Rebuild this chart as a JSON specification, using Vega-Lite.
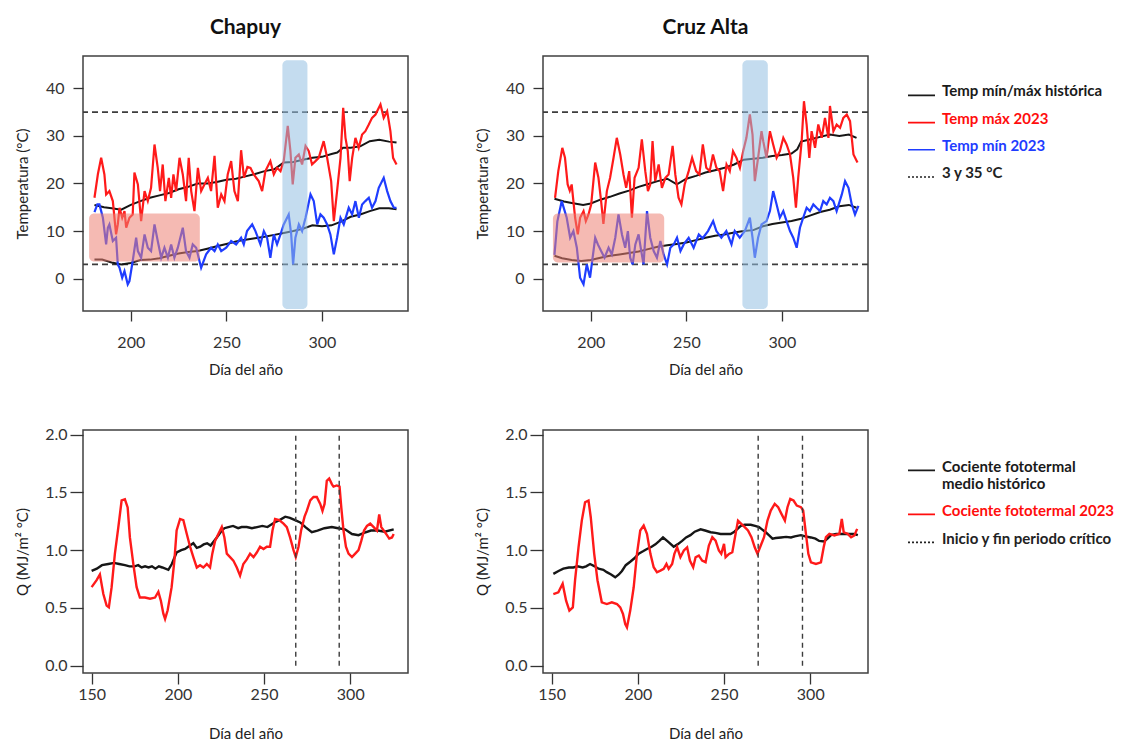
{
"$schema":"https://vega.github.io/schema/vega-lite/v6.json",
"padding":{"left":14,"top":16,"right":0,"bottom":0},
"background":"white",
"config":{
 "font":"Lato",
 "view":{"stroke":"#404040","strokeWidth":1.5},
 "axis":{"domain":false,"grid":false,"tickColor":"#333333","tickWidth":1.3,"labelFontSize":16,"labelColor":"#333333","titleFontSize":15,"titleFontWeight":"normal","titleColor":"#222222"},
 "title":{"fontSize":21,"fontWeight":"bold","color":"#111111"}
},
"resolve":{"scale":{"color":"independent","strokeDash":"independent"}},
"datasets":{
 "umbral":[{"v":3},{"v":35}],
 "franjas":[{"est":"CH","tipo":"periodo","ini":279.3,"fin":292.4,"lo":-6.4,"hi":45.9},{"est":"CH","tipo":"frio","ini":178.2,"fin":236.1,"lo":3.6,"hi":13.7},{"est":"CA","tipo":"periodo","ini":279.3,"fin":292.6,"lo":-6.4,"hi":45.9},{"est":"CA","tipo":"frio","ini":180.2,"fin":238.4,"lo":3.4,"hi":13.7}],
 "criticos":[{"est":"CH","dia":268.4},{"est":"CH","dia":293.6},{"est":"CA","dia":269.8},{"est":"CA","dia":295.5}],
 "ch_hmax":[{"dia":181,"v":15.5},{"dia":186,"v":15},{"dia":190,"v":14.8},{"dia":195,"v":14.5},{"dia":200,"v":15.5},{"dia":205,"v":16.3},{"dia":210,"v":17},{"dia":215,"v":17.5},{"dia":220,"v":18},{"dia":225,"v":18.8},{"dia":230,"v":19.3},{"dia":235,"v":20},{"dia":240,"v":20},{"dia":245,"v":20.3},{"dia":250,"v":20.8},{"dia":255,"v":21},{"dia":260,"v":21.5},{"dia":265,"v":22},{"dia":270,"v":22.6},{"dia":275,"v":23},{"dia":280,"v":24.4},{"dia":285,"v":24.5},{"dia":290,"v":25},{"dia":295,"v":25.4},{"dia":300,"v":25.6},{"dia":305,"v":26.2},{"dia":308,"v":26.5},{"dia":311,"v":27.5},{"dia":315,"v":27.5},{"dia":320,"v":27.8},{"dia":325,"v":28.9},{"dia":330,"v":29.2},{"dia":335,"v":28.8},{"dia":339,"v":28.6}],
 "ch_hmin":[{"dia":181,"v":4},{"dia":185,"v":4},{"dia":190,"v":3.4},{"dia":195,"v":3},{"dia":200,"v":3.3},{"dia":205,"v":3.9},{"dia":210,"v":4},{"dia":215,"v":4.3},{"dia":220,"v":4.8},{"dia":225,"v":5.3},{"dia":230,"v":5.6},{"dia":235,"v":5.8},{"dia":240,"v":6.3},{"dia":245,"v":6.8},{"dia":250,"v":7.3},{"dia":255,"v":7.8},{"dia":260,"v":8.2},{"dia":265,"v":8.5},{"dia":270,"v":8.8},{"dia":275,"v":9.2},{"dia":280,"v":9.6},{"dia":285,"v":10},{"dia":290,"v":10.5},{"dia":295,"v":11.2},{"dia":300,"v":11},{"dia":305,"v":11.2},{"dia":310,"v":12},{"dia":315,"v":13},{"dia":320,"v":13.5},{"dia":325,"v":14.2},{"dia":330,"v":14.8},{"dia":335,"v":14.8},{"dia":339,"v":14.6}],
 "ch_max":[{"dia":181,"v":17},{"dia":182.8,"v":22},{"dia":184.5,"v":25.4},{"dia":186.2,"v":21.9},{"dia":187.1,"v":17.7},{"dia":188.8,"v":18.4},{"dia":190.6,"v":16.3},{"dia":192.3,"v":9.3},{"dia":193.2,"v":11.4},{"dia":194.1,"v":14.9},{"dia":195.5,"v":12.8},{"dia":196.7,"v":14.2},{"dia":197.6,"v":10.7},{"dia":199.3,"v":12.8},{"dia":201,"v":13.5},{"dia":201.9,"v":22.3},{"dia":203.7,"v":19.8},{"dia":205.4,"v":12.1},{"dia":207.2,"v":18.4},{"dia":208.9,"v":16.3},{"dia":210.6,"v":19.1},{"dia":212.4,"v":28.2},{"dia":214.1,"v":23.3},{"dia":215.3,"v":18.4},{"dia":216.7,"v":24},{"dia":218.1,"v":16.3},{"dia":219.9,"v":21.2},{"dia":221.1,"v":17},{"dia":222.3,"v":21.9},{"dia":223.7,"v":18.4},{"dia":225.5,"v":25.4},{"dia":227.2,"v":21.9},{"dia":228.9,"v":16.3},{"dia":230.3,"v":25.4},{"dia":231.6,"v":18.4},{"dia":233.3,"v":14.2},{"dia":235.1,"v":23.3},{"dia":236.8,"v":18.4},{"dia":238.5,"v":19.8},{"dia":240.3,"v":21.2},{"dia":242,"v":18.4},{"dia":243.8,"v":25.8},{"dia":245.5,"v":14.9},{"dia":247.3,"v":17.7},{"dia":249,"v":16.3},{"dia":250.7,"v":21.9},{"dia":252.5,"v":24.7},{"dia":254.2,"v":18.4},{"dia":256,"v":16.3},{"dia":257.7,"v":27},{"dia":259.2,"v":21.2},{"dia":261,"v":23.5},{"dia":262.6,"v":23.3},{"dia":264.3,"v":21.9},{"dia":266.9,"v":20.5},{"dia":268.7,"v":18.4},{"dia":270.4,"v":22.6},{"dia":273,"v":24.7},{"dia":274.8,"v":21.9},{"dia":276.5,"v":23.3},{"dia":278.3,"v":22.6},{"dia":280,"v":24.7},{"dia":282.1,"v":32.1},{"dia":283.5,"v":26.8},{"dia":284.7,"v":19.8},{"dia":286.1,"v":25.4},{"dia":287.9,"v":26.1},{"dia":289.6,"v":24},{"dia":291.4,"v":27.9},{"dia":293.1,"v":26.8},{"dia":294.8,"v":24},{"dia":296.6,"v":24.7},{"dia":298.3,"v":25.4},{"dia":300.9,"v":28.9},{"dia":302.7,"v":25.4},{"dia":304.8,"v":20.5},{"dia":306.2,"v":12.1},{"dia":307.9,"v":18.4},{"dia":309.7,"v":25.4},{"dia":311.1,"v":35.9},{"dia":312.3,"v":29.6},{"dia":313.5,"v":26.8},{"dia":314.5,"v":20.5},{"dia":315.8,"v":25.4},{"dia":317.5,"v":29.6},{"dia":319.2,"v":27.5},{"dia":321,"v":30.3},{"dia":322.7,"v":31},{"dia":324.5,"v":32.4},{"dia":326.2,"v":33.8},{"dia":328,"v":34.5},{"dia":330.6,"v":36.6},{"dia":332.3,"v":33.8},{"dia":334.1,"v":35.2},{"dia":335.8,"v":31},{"dia":337.2,"v":25.4},{"dia":339,"v":24}],
 "ch_min":[{"dia":181,"v":14},{"dia":182.5,"v":15.6},{"dia":183.6,"v":15.6},{"dia":185.4,"v":12.8},{"dia":187.1,"v":7.2},{"dia":188,"v":10.7},{"dia":188.8,"v":11.4},{"dia":190.6,"v":7.9},{"dia":192.3,"v":8.6},{"dia":193.2,"v":3},{"dia":194.1,"v":2.3},{"dia":195.5,"v":0.2},{"dia":196.7,"v":1.6},{"dia":198.4,"v":-1.2},{"dia":199.3,"v":-0.5},{"dia":201,"v":3.7},{"dia":202.8,"v":8.6},{"dia":203.7,"v":5.8},{"dia":205.4,"v":4.4},{"dia":207.2,"v":9.3},{"dia":208.9,"v":6.5},{"dia":210.6,"v":5.8},{"dia":212.4,"v":11.4},{"dia":214.1,"v":7.9},{"dia":215.9,"v":4.4},{"dia":217.6,"v":6.5},{"dia":219.4,"v":4.4},{"dia":221.1,"v":7.2},{"dia":222.8,"v":4.4},{"dia":224.6,"v":6.5},{"dia":227.2,"v":10.7},{"dia":228.9,"v":5.8},{"dia":230.7,"v":4.4},{"dia":232.4,"v":7.2},{"dia":234.2,"v":6.5},{"dia":236.8,"v":2.3},{"dia":239.4,"v":5.1},{"dia":242,"v":6.5},{"dia":243.8,"v":5.8},{"dia":245.5,"v":7.2},{"dia":247.3,"v":5.8},{"dia":249.9,"v":6.5},{"dia":252.5,"v":7.9},{"dia":255.1,"v":7.2},{"dia":257.7,"v":8.6},{"dia":259.1,"v":7.2},{"dia":260.8,"v":10},{"dia":263.5,"v":11.4},{"dia":265.2,"v":10},{"dia":267.8,"v":7.2},{"dia":269.6,"v":10},{"dia":271.3,"v":8.6},{"dia":273,"v":4.4},{"dia":274.8,"v":9.3},{"dia":276.5,"v":7.2},{"dia":278.3,"v":9.3},{"dia":280,"v":11.4},{"dia":282.6,"v":13.5},{"dia":283.9,"v":9.3},{"dia":284.9,"v":3},{"dia":286.1,"v":8.6},{"dia":287.9,"v":11.4},{"dia":289.6,"v":10},{"dia":291.4,"v":12.8},{"dia":294,"v":17.7},{"dia":295.7,"v":16.3},{"dia":297.5,"v":11.4},{"dia":299.2,"v":13.5},{"dia":300.9,"v":12.8},{"dia":302.7,"v":11.4},{"dia":304.4,"v":9.3},{"dia":306.2,"v":5.1},{"dia":307.9,"v":8.6},{"dia":309.7,"v":12.8},{"dia":311.4,"v":11.4},{"dia":314,"v":14.9},{"dia":315.8,"v":13.5},{"dia":317.5,"v":16.3},{"dia":319.3,"v":12.8},{"dia":321,"v":15.6},{"dia":322.7,"v":16.3},{"dia":324.5,"v":17},{"dia":326.2,"v":14.9},{"dia":328,"v":16.3},{"dia":329.7,"v":19.1},{"dia":332.3,"v":21.2},{"dia":334.1,"v":18.4},{"dia":335.8,"v":16.3},{"dia":337.6,"v":14.9},{"dia":339,"v":14.9}],
 "ca_hmax":[{"dia":181,"v":16.8},{"dia":186,"v":16.2},{"dia":190,"v":15.9},{"dia":196,"v":15.5},{"dia":200,"v":15.8},{"dia":205,"v":16.6},{"dia":210,"v":17.2},{"dia":215,"v":17.9},{"dia":220,"v":18.5},{"dia":225,"v":19.3},{"dia":230,"v":19.9},{"dia":235,"v":20.5},{"dia":240,"v":21},{"dia":245,"v":19.8},{"dia":250,"v":21},{"dia":255,"v":21.6},{"dia":260,"v":22.3},{"dia":265,"v":22.8},{"dia":270,"v":23.3},{"dia":275,"v":24},{"dia":280,"v":25},{"dia":285,"v":25.2},{"dia":290,"v":25.4},{"dia":295,"v":25.8},{"dia":300,"v":26},{"dia":305,"v":26.3},{"dia":308,"v":27.2},{"dia":310,"v":28.8},{"dia":315,"v":29.3},{"dia":320,"v":29.8},{"dia":325,"v":30.3},{"dia":330,"v":30},{"dia":335,"v":30.3},{"dia":339,"v":29.6}],
 "ca_hmin":[{"dia":181,"v":4.8},{"dia":185,"v":4.3},{"dia":190,"v":3.9},{"dia":195,"v":3.7},{"dia":200,"v":3.9},{"dia":205,"v":4.4},{"dia":210,"v":4.8},{"dia":215,"v":5.1},{"dia":220,"v":5.4},{"dia":225,"v":5.7},{"dia":230,"v":6.2},{"dia":235,"v":6.7},{"dia":240,"v":7},{"dia":245,"v":7.3},{"dia":250,"v":7.6},{"dia":255,"v":8.1},{"dia":260,"v":8.6},{"dia":265,"v":9},{"dia":270,"v":9.3},{"dia":275,"v":9.7},{"dia":280,"v":10},{"dia":285,"v":10.2},{"dia":290,"v":11},{"dia":295,"v":11.5},{"dia":300,"v":11.8},{"dia":305,"v":12.1},{"dia":310,"v":12.6},{"dia":315,"v":13.3},{"dia":320,"v":14},{"dia":325,"v":14.5},{"dia":330,"v":15.2},{"dia":335,"v":15.5},{"dia":339,"v":14.9}],
 "ca_max":[{"dia":181.3,"v":17},{"dia":183,"v":22.6},{"dia":185.1,"v":27.5},{"dia":186.5,"v":25.4},{"dia":187.9,"v":19.8},{"dia":189,"v":18.5},{"dia":190,"v":19.8},{"dia":191.8,"v":12.8},{"dia":193.2,"v":9.3},{"dia":194.4,"v":12.8},{"dia":196.2,"v":14.2},{"dia":197.4,"v":12.1},{"dia":198.8,"v":13.5},{"dia":200.2,"v":15.6},{"dia":202.3,"v":24.4},{"dia":204,"v":21.2},{"dia":205.4,"v":16.3},{"dia":206.6,"v":11.5},{"dia":208.4,"v":18.4},{"dia":210.1,"v":21.2},{"dia":211.9,"v":25.4},{"dia":213.6,"v":29.6},{"dia":215.4,"v":26.1},{"dia":217.1,"v":21.9},{"dia":218.5,"v":19.1},{"dia":220.1,"v":22.6},{"dia":221.5,"v":12.8},{"dia":222.9,"v":21.2},{"dia":225,"v":23.3},{"dia":226.7,"v":29.3},{"dia":228.5,"v":22.6},{"dia":229.9,"v":18.4},{"dia":231.1,"v":19.8},{"dia":232.3,"v":28.9},{"dia":233.7,"v":20.5},{"dia":235.5,"v":24},{"dia":237.2,"v":19.1},{"dia":239,"v":21.2},{"dia":240.7,"v":21.9},{"dia":242.8,"v":27.9},{"dia":244.2,"v":21.9},{"dia":245.9,"v":17},{"dia":247.4,"v":15.6},{"dia":249.1,"v":19.8},{"dia":251.2,"v":22.6},{"dia":253,"v":25.4},{"dia":255.1,"v":22.6},{"dia":256.8,"v":21.9},{"dia":258.6,"v":28.2},{"dia":260.4,"v":23.3},{"dia":262.2,"v":22.6},{"dia":263.9,"v":26.1},{"dia":265.7,"v":23.3},{"dia":267.4,"v":22.6},{"dia":269.2,"v":18.4},{"dia":271,"v":24},{"dia":272.7,"v":22.6},{"dia":274.4,"v":26.8},{"dia":276.2,"v":25.4},{"dia":278,"v":23.3},{"dia":279.7,"v":26.8},{"dia":281.4,"v":29.6},{"dia":283.2,"v":34.5},{"dia":284.6,"v":30.3},{"dia":285.8,"v":20.5},{"dia":287.5,"v":25.4},{"dia":289.3,"v":31},{"dia":290.2,"v":28.9},{"dia":291.9,"v":25.4},{"dia":293.7,"v":31},{"dia":295.4,"v":28.2},{"dia":297.2,"v":25.4},{"dia":298.9,"v":26.8},{"dia":300.7,"v":29.6},{"dia":302.4,"v":28.2},{"dia":304.2,"v":26.1},{"dia":305.9,"v":21.2},{"dia":307.3,"v":14.9},{"dia":308.5,"v":21.2},{"dia":310.3,"v":28.9},{"dia":311.5,"v":37.3},{"dia":312.9,"v":32.4},{"dia":314.3,"v":25.4},{"dia":315.5,"v":31},{"dia":317.3,"v":27.5},{"dia":319,"v":32.4},{"dia":320.8,"v":29.6},{"dia":322.5,"v":33.8},{"dia":324.3,"v":29.6},{"dia":325.1,"v":36.3},{"dia":326.9,"v":31},{"dia":328.6,"v":32.4},{"dia":330.4,"v":31.7},{"dia":332.1,"v":33.8},{"dia":333.9,"v":34.5},{"dia":335.6,"v":33.1},{"dia":337.4,"v":26.1},{"dia":339.5,"v":24.4}],
 "ca_min":[{"dia":181,"v":5},{"dia":182.5,"v":12},{"dia":184.8,"v":16.3},{"dia":187.4,"v":12.8},{"dia":189.2,"v":8.6},{"dia":190.9,"v":10},{"dia":192.7,"v":6.5},{"dia":194.4,"v":0.2},{"dia":196.2,"v":-1.2},{"dia":197.9,"v":3},{"dia":199.6,"v":0.2},{"dia":202.3,"v":8.6},{"dia":203.7,"v":7.2},{"dia":205.4,"v":5.8},{"dia":207.2,"v":4.4},{"dia":209.3,"v":6.5},{"dia":211,"v":5.1},{"dia":212.8,"v":8.6},{"dia":214.5,"v":13.5},{"dia":216.3,"v":9.3},{"dia":218,"v":6.5},{"dia":219.4,"v":10},{"dia":220.6,"v":4.4},{"dia":221.9,"v":3},{"dia":223.3,"v":7.2},{"dia":225,"v":9.3},{"dia":226.4,"v":5.8},{"dia":227.6,"v":3},{"dia":229.4,"v":14.2},{"dia":231.1,"v":8.6},{"dia":232.9,"v":5.8},{"dia":234.6,"v":4.4},{"dia":236.4,"v":7.9},{"dia":238.1,"v":5.1},{"dia":239.9,"v":3},{"dia":241.6,"v":6.5},{"dia":243.4,"v":7.2},{"dia":245.1,"v":8.6},{"dia":246.9,"v":5.8},{"dia":248.6,"v":7.2},{"dia":251.2,"v":8.6},{"dia":253.8,"v":6.5},{"dia":256.5,"v":9.3},{"dia":258.5,"v":8.5},{"dia":261.3,"v":10},{"dia":264,"v":12.1},{"dia":265.7,"v":10},{"dia":268.3,"v":8.6},{"dia":270.9,"v":10},{"dia":273.6,"v":7.2},{"dia":275.3,"v":10},{"dia":277.9,"v":8.6},{"dia":280.6,"v":10},{"dia":283.2,"v":12.8},{"dia":284.6,"v":8.6},{"dia":285.8,"v":4.4},{"dia":287.5,"v":8.6},{"dia":289.3,"v":11.4},{"dia":291.9,"v":12.1},{"dia":293.7,"v":14.2},{"dia":295.4,"v":18.4},{"dia":297.2,"v":15.6},{"dia":298.9,"v":12.8},{"dia":300.7,"v":14.2},{"dia":302.4,"v":12.1},{"dia":304.2,"v":10},{"dia":305.9,"v":8.6},{"dia":307.7,"v":6.5},{"dia":309.4,"v":10.7},{"dia":311.1,"v":12.8},{"dia":312.9,"v":14.9},{"dia":314.6,"v":14.2},{"dia":316.4,"v":15.6},{"dia":318.1,"v":14.9},{"dia":319.9,"v":14.2},{"dia":321.6,"v":16.3},{"dia":323.4,"v":15.6},{"dia":325.1,"v":17},{"dia":326.9,"v":16.3},{"dia":328.6,"v":14.2},{"dia":331.3,"v":17.7},{"dia":333,"v":20.5},{"dia":334.8,"v":19.1},{"dia":336.5,"v":15.6},{"dia":338.2,"v":13.5},{"dia":340,"v":15.3}],
 "ch_qh":[{"dia":150,"v":0.82},{"dia":153,"v":0.84},{"dia":156,"v":0.87},{"dia":159.7,"v":0.88},{"dia":163,"v":0.89},{"dia":166,"v":0.88},{"dia":169.3,"v":0.87},{"dia":172,"v":0.86},{"dia":175,"v":0.86},{"dia":177,"v":0.87},{"dia":179,"v":0.85},{"dia":181,"v":0.86},{"dia":183,"v":0.85},{"dia":185,"v":0.86},{"dia":187,"v":0.84},{"dia":189,"v":0.86},{"dia":191,"v":0.85},{"dia":194.5,"v":0.83},{"dia":196.5,"v":0.88},{"dia":199.3,"v":0.98},{"dia":202,"v":1.0},{"dia":204.2,"v":1.01},{"dia":207,"v":1.04},{"dia":209,"v":1.06},{"dia":211,"v":1.02},{"dia":213,"v":1.03},{"dia":215,"v":1.05},{"dia":217,"v":1.06},{"dia":219,"v":1.04},{"dia":222.6,"v":1.11},{"dia":225,"v":1.16},{"dia":227,"v":1.19},{"dia":229.3,"v":1.2},{"dia":232,"v":1.21},{"dia":235,"v":1.19},{"dia":237,"v":1.2},{"dia":240,"v":1.2},{"dia":243,"v":1.19},{"dia":246,"v":1.2},{"dia":249,"v":1.21},{"dia":252,"v":1.2},{"dia":256,"v":1.24},{"dia":259,"v":1.26},{"dia":262.3,"v":1.29},{"dia":265,"v":1.28},{"dia":268,"v":1.26},{"dia":271,"v":1.24},{"dia":274,"v":1.2},{"dia":277.7,"v":1.155},{"dia":281,"v":1.17},{"dia":285,"v":1.19},{"dia":289.3,"v":1.2},{"dia":293,"v":1.19},{"dia":297,"v":1.18},{"dia":301,"v":1.14},{"dia":304.8,"v":1.13},{"dia":308,"v":1.15},{"dia":312,"v":1.17},{"dia":316,"v":1.17},{"dia":320,"v":1.16},{"dia":325.2,"v":1.18}],
 "ch_q":[{"dia":150,"v":0.68},{"dia":152.9,"v":0.74},{"dia":154.8,"v":0.79},{"dia":156.8,"v":0.62},{"dia":158.7,"v":0.52},{"dia":160,"v":0.505},{"dia":161.6,"v":0.68},{"dia":163.5,"v":0.97},{"dia":165.5,"v":1.2},{"dia":167.4,"v":1.43},{"dia":169.3,"v":1.44},{"dia":170.9,"v":1.37},{"dia":172.2,"v":1.11},{"dia":174.2,"v":0.88},{"dia":176.1,"v":0.68},{"dia":178,"v":0.59},{"dia":180.9,"v":0.59},{"dia":183.9,"v":0.58},{"dia":186.8,"v":0.59},{"dia":188.7,"v":0.64},{"dia":190.2,"v":0.56},{"dia":191.6,"v":0.45},{"dia":192.6,"v":0.405},{"dia":194.1,"v":0.48},{"dia":196.4,"v":0.68},{"dia":198,"v":0.91},{"dia":199.3,"v":1.17},{"dia":201.3,"v":1.27},{"dia":203.2,"v":1.26},{"dia":205.2,"v":1.14},{"dia":207.1,"v":1.03},{"dia":209,"v":0.94},{"dia":211,"v":0.85},{"dia":212.9,"v":0.87},{"dia":214.8,"v":0.85},{"dia":216.8,"v":0.88},{"dia":218.7,"v":0.85},{"dia":220,"v":0.97},{"dia":221.6,"v":1.08},{"dia":223.5,"v":1.14},{"dia":225.5,"v":1.2},{"dia":227,"v":1.11},{"dia":228.4,"v":0.97},{"dia":230.3,"v":0.94},{"dia":232.2,"v":0.91},{"dia":234.2,"v":0.85},{"dia":236.1,"v":0.78},{"dia":238,"v":0.88},{"dia":240,"v":0.92},{"dia":241.9,"v":0.97},{"dia":243.9,"v":0.94},{"dia":245.8,"v":0.98},{"dia":247.7,"v":1.03},{"dia":249.7,"v":1.01},{"dia":251.6,"v":1.03},{"dia":253.5,"v":1.03},{"dia":254.9,"v":1.17},{"dia":256.4,"v":1.27},{"dia":258.8,"v":1.26},{"dia":261.3,"v":1.23},{"dia":263.2,"v":1.2},{"dia":265.1,"v":1.11},{"dia":267.1,"v":1.0},{"dia":268.4,"v":0.94},{"dia":270,"v":1.03},{"dia":271.5,"v":1.17},{"dia":273.5,"v":1.29},{"dia":274.8,"v":1.34},{"dia":276.8,"v":1.43},{"dia":278.7,"v":1.46},{"dia":280.6,"v":1.46},{"dia":282.6,"v":1.4},{"dia":283.9,"v":1.34},{"dia":285.1,"v":1.4},{"dia":286.4,"v":1.6},{"dia":287.8,"v":1.62},{"dia":289.4,"v":1.57},{"dia":290.3,"v":1.55},{"dia":292.2,"v":1.56},{"dia":293.8,"v":1.55},{"dia":294.8,"v":1.37},{"dia":296.1,"v":1.17},{"dia":297.5,"v":1.03},{"dia":299,"v":0.97},{"dia":301,"v":0.94},{"dia":302.9,"v":0.97},{"dia":304.8,"v":1.0},{"dia":306.4,"v":1.08},{"dia":308,"v":1.17},{"dia":309.7,"v":1.21},{"dia":311.6,"v":1.23},{"dia":313.6,"v":1.2},{"dia":315.5,"v":1.17},{"dia":316.8,"v":1.31},{"dia":318,"v":1.2},{"dia":319.4,"v":1.17},{"dia":321.3,"v":1.13},{"dia":322.6,"v":1.1},{"dia":324.2,"v":1.11},{"dia":325.2,"v":1.14}],
 "ca_qh":[{"dia":151,"v":0.795},{"dia":154,"v":0.82},{"dia":156.8,"v":0.84},{"dia":160,"v":0.85},{"dia":162.6,"v":0.85},{"dia":165,"v":0.86},{"dia":168,"v":0.85},{"dia":170,"v":0.86},{"dia":172.3,"v":0.88},{"dia":175,"v":0.86},{"dia":177.2,"v":0.84},{"dia":180,"v":0.83},{"dia":182,"v":0.81},{"dia":184.5,"v":0.79},{"dia":186.9,"v":0.765},{"dia":189,"v":0.79},{"dia":190.8,"v":0.82},{"dia":193,"v":0.87},{"dia":195.6,"v":0.9},{"dia":198,"v":0.93},{"dia":200.5,"v":0.97},{"dia":203,"v":0.99},{"dia":205.3,"v":1.01},{"dia":208,"v":1.03},{"dia":210.2,"v":1.05},{"dia":212.5,"v":1.08},{"dia":214.6,"v":1.11},{"dia":217,"v":1.08},{"dia":220.8,"v":1.03},{"dia":223,"v":1.05},{"dia":225.7,"v":1.08},{"dia":228,"v":1.11},{"dia":230.5,"v":1.13},{"dia":233,"v":1.16},{"dia":236.4,"v":1.18},{"dia":239,"v":1.17},{"dia":242.2,"v":1.155},{"dia":245,"v":1.15},{"dia":248,"v":1.14},{"dia":251,"v":1.14},{"dia":253.8,"v":1.14},{"dia":256,"v":1.16},{"dia":259.7,"v":1.21},{"dia":262,"v":1.22},{"dia":265.5,"v":1.22},{"dia":268,"v":1.21},{"dia":270.3,"v":1.2},{"dia":272,"v":1.18},{"dia":274.2,"v":1.155},{"dia":276,"v":1.13},{"dia":278.1,"v":1.1},{"dia":280,"v":1.105},{"dia":283,"v":1.11},{"dia":286,"v":1.115},{"dia":288.8,"v":1.11},{"dia":291,"v":1.12},{"dia":294.6,"v":1.13},{"dia":297,"v":1.12},{"dia":300.4,"v":1.11},{"dia":303,"v":1.1},{"dia":305.2,"v":1.08},{"dia":308,"v":1.075},{"dia":310,"v":1.1},{"dia":312,"v":1.13},{"dia":315,"v":1.14},{"dia":318,"v":1.14},{"dia":321,"v":1.14},{"dia":323.7,"v":1.14},{"dia":325.5,"v":1.14},{"dia":327.6,"v":1.13}],
 "ca_q":[{"dia":151,"v":0.62},{"dia":153.9,"v":0.635},{"dia":156.4,"v":0.71},{"dia":158.4,"v":0.563},{"dia":160.3,"v":0.477},{"dia":162.3,"v":0.505},{"dia":163.6,"v":0.74},{"dia":165.6,"v":1.025},{"dia":167.5,"v":1.256},{"dia":169.4,"v":1.415},{"dia":171.4,"v":1.43},{"dia":172.7,"v":1.285},{"dia":174.7,"v":0.968},{"dia":176.6,"v":0.74},{"dia":179.1,"v":0.549},{"dia":182,"v":0.534},{"dia":184.9,"v":0.549},{"dia":187.9,"v":0.534},{"dia":189.8,"v":0.505},{"dia":191.4,"v":0.448},{"dia":192.7,"v":0.361},{"dia":193.7,"v":0.332},{"dia":195.6,"v":0.477},{"dia":197.6,"v":0.679},{"dia":199.5,"v":0.968},{"dia":201.4,"v":1.17},{"dia":203.4,"v":1.213},{"dia":205.3,"v":1.141},{"dia":207.3,"v":0.968},{"dia":209.2,"v":0.852},{"dia":211.1,"v":0.809},{"dia":213.1,"v":0.823},{"dia":215,"v":0.838},{"dia":216.6,"v":0.881},{"dia":217.9,"v":0.838},{"dia":219.9,"v":0.881},{"dia":221.2,"v":0.968},{"dia":222.8,"v":1.025},{"dia":224.7,"v":0.939},{"dia":226.7,"v":0.997},{"dia":228.6,"v":1.025},{"dia":230.2,"v":0.91},{"dia":232.1,"v":0.852},{"dia":233.5,"v":0.939},{"dia":235.4,"v":0.953},{"dia":237.3,"v":0.91},{"dia":239.3,"v":0.895},{"dia":241.2,"v":1.04},{"dia":243.2,"v":1.112},{"dia":245.1,"v":1.083},{"dia":247,"v":0.997},{"dia":248.4,"v":0.968},{"dia":250,"v":1.054},{"dia":250.9,"v":0.939},{"dia":252.9,"v":0.968},{"dia":254.8,"v":0.982},{"dia":256.7,"v":1.141},{"dia":258.1,"v":1.256},{"dia":260,"v":1.228},{"dia":262,"v":1.199},{"dia":263.9,"v":1.17},{"dia":265.9,"v":1.112},{"dia":267.8,"v":1.025},{"dia":269.4,"v":0.968},{"dia":271.3,"v":1.04},{"dia":273.2,"v":1.112},{"dia":275.2,"v":1.256},{"dia":277.1,"v":1.343},{"dia":279.4,"v":1.401},{"dia":281.4,"v":1.372},{"dia":283.3,"v":1.314},{"dia":285.3,"v":1.256},{"dia":286.8,"v":1.372},{"dia":288.4,"v":1.444},{"dia":290.3,"v":1.43},{"dia":292.2,"v":1.386},{"dia":294.6,"v":1.372},{"dia":295.9,"v":1.343},{"dia":297.5,"v":1.141},{"dia":298.9,"v":0.968},{"dia":300.4,"v":0.895},{"dia":303.3,"v":0.881},{"dia":306.2,"v":0.895},{"dia":307.8,"v":1.025},{"dia":309.1,"v":1.112},{"dia":311.1,"v":1.141},{"dia":314,"v":1.127},{"dia":316.9,"v":1.141},{"dia":318.3,"v":1.271},{"dia":319.4,"v":1.155},{"dia":321.7,"v":1.141},{"dia":323.7,"v":1.112},{"dia":325.6,"v":1.127},{"dia":327.2,"v":1.184}]
},
"columns":3,
"spacing":{"row":119,"column":135},
"bounds":"flush",
"concat":[
 {"width":325,"height":255,"title":{"text":"Chapuy","offset":18},
  "layer":[
   {"data":{"name":"umbral"},"mark":{"type":"rule","color":"#3c3c3c","strokeWidth":1.6,"strokeDash":[6,4]},
    "encoding":{"y":{"field":"v","type":"quantitative","scale":{"domain":[-6.8,46.8],"nice":false,"zero":false},"axis":{"values":[0,10,20,30,40],"title":"Temperatura  (°C)","tickSize":10,"labelPadding":9,"titlePadding":15}}}},
   {"data":{"name":"ch_hmax"},"mark":{"type":"line","color":"#161616","strokeWidth":2},
    "encoding":{"x":{"field":"dia","type":"quantitative","scale":{"domain":[175,345],"nice":false,"zero":false},"axis":{"values":[200,250,300],"title":"Día del año","tickSize":10,"labelPadding":13,"titlePadding":12}},"y":{"field":"v","type":"quantitative","scale":{"domain":[-6.8,46.8],"nice":false,"zero":false},"axis":{"values":[0,10,20,30,40],"title":"Temperatura  (°C)","tickSize":10,"labelPadding":9,"titlePadding":15}}}},
   {"data":{"name":"ch_hmin"},"mark":{"type":"line","color":"#161616","strokeWidth":2},
    "encoding":{"x":{"field":"dia","type":"quantitative","scale":{"domain":[175,345],"nice":false,"zero":false},"axis":{"values":[200,250,300],"title":"Día del año","tickSize":10,"labelPadding":13,"titlePadding":12}},"y":{"field":"v","type":"quantitative","scale":{"domain":[-6.8,46.8],"nice":false,"zero":false},"axis":{"values":[0,10,20,30,40],"title":"Temperatura  (°C)","tickSize":10,"labelPadding":9,"titlePadding":15}}}},
   {"data":{"name":"ch_max"},"mark":{"type":"line","color":"#ff1a1a","strokeWidth":2.2},
    "encoding":{"x":{"field":"dia","type":"quantitative","scale":{"domain":[175,345],"nice":false,"zero":false},"axis":{"values":[200,250,300],"title":"Día del año","tickSize":10,"labelPadding":13,"titlePadding":12}},"y":{"field":"v","type":"quantitative","scale":{"domain":[-6.8,46.8],"nice":false,"zero":false},"axis":{"values":[0,10,20,30,40],"title":"Temperatura  (°C)","tickSize":10,"labelPadding":9,"titlePadding":15}}}},
   {"data":{"name":"ch_min"},"mark":{"type":"line","color":"#1f3dff","strokeWidth":2.2},
    "encoding":{"x":{"field":"dia","type":"quantitative","scale":{"domain":[175,345],"nice":false,"zero":false},"axis":{"values":[200,250,300],"title":"Día del año","tickSize":10,"labelPadding":13,"titlePadding":12}},"y":{"field":"v","type":"quantitative","scale":{"domain":[-6.8,46.8],"nice":false,"zero":false},"axis":{"values":[0,10,20,30,40],"title":"Temperatura  (°C)","tickSize":10,"labelPadding":9,"titlePadding":15}}}},
   {"data":{"name":"franjas"},"transform":[{"filter":"datum.est === 'CH'"}],"mark":{"type":"rect","cornerRadius":5,"opacity":0.55},
    "encoding":{"x":{"field":"ini","type":"quantitative","scale":{"domain":[175,345],"nice":false,"zero":false},"axis":{"values":[200,250,300],"title":"Día del año","tickSize":10,"labelPadding":13,"titlePadding":12}},"x2":{"field":"fin"},"y":{"field":"lo","type":"quantitative","scale":{"domain":[-6.8,46.8],"nice":false,"zero":false},"axis":{"values":[0,10,20,30,40],"title":"Temperatura  (°C)","tickSize":10,"labelPadding":9,"titlePadding":15}},"y2":{"field":"hi"},"color":{"field":"tipo","type":"nominal","scale":{"domain":["periodo","frio"],"range":["#94bfe2","#ed8175"]},"legend":null}}}
  ]},
 {"width":325,"height":255,"title":{"text":"Cruz Alta","offset":18},
  "layer":[
   {"data":{"name":"umbral"},"mark":{"type":"rule","color":"#3c3c3c","strokeWidth":1.6,"strokeDash":[6,4]},
    "encoding":{"y":{"field":"v","type":"quantitative","scale":{"domain":[-6.8,46.8],"nice":false,"zero":false},"axis":{"values":[0,10,20,30,40],"title":"Temperatura  (°C)","tickSize":10,"labelPadding":9,"titlePadding":15}}}},
   {"data":{"name":"ca_hmax"},"mark":{"type":"line","color":"#161616","strokeWidth":2},
    "encoding":{"x":{"field":"dia","type":"quantitative","scale":{"domain":[175,345],"nice":false,"zero":false},"axis":{"values":[200,250,300],"title":"Día del año","tickSize":10,"labelPadding":13,"titlePadding":12}},"y":{"field":"v","type":"quantitative","scale":{"domain":[-6.8,46.8],"nice":false,"zero":false},"axis":{"values":[0,10,20,30,40],"title":"Temperatura  (°C)","tickSize":10,"labelPadding":9,"titlePadding":15}}}},
   {"data":{"name":"ca_hmin"},"mark":{"type":"line","color":"#161616","strokeWidth":2},
    "encoding":{"x":{"field":"dia","type":"quantitative","scale":{"domain":[175,345],"nice":false,"zero":false},"axis":{"values":[200,250,300],"title":"Día del año","tickSize":10,"labelPadding":13,"titlePadding":12}},"y":{"field":"v","type":"quantitative","scale":{"domain":[-6.8,46.8],"nice":false,"zero":false},"axis":{"values":[0,10,20,30,40],"title":"Temperatura  (°C)","tickSize":10,"labelPadding":9,"titlePadding":15}}}},
   {"data":{"name":"ca_max"},"mark":{"type":"line","color":"#ff1a1a","strokeWidth":2.2},
    "encoding":{"x":{"field":"dia","type":"quantitative","scale":{"domain":[175,345],"nice":false,"zero":false},"axis":{"values":[200,250,300],"title":"Día del año","tickSize":10,"labelPadding":13,"titlePadding":12}},"y":{"field":"v","type":"quantitative","scale":{"domain":[-6.8,46.8],"nice":false,"zero":false},"axis":{"values":[0,10,20,30,40],"title":"Temperatura  (°C)","tickSize":10,"labelPadding":9,"titlePadding":15}}}},
   {"data":{"name":"ca_min"},"mark":{"type":"line","color":"#1f3dff","strokeWidth":2.2},
    "encoding":{"x":{"field":"dia","type":"quantitative","scale":{"domain":[175,345],"nice":false,"zero":false},"axis":{"values":[200,250,300],"title":"Día del año","tickSize":10,"labelPadding":13,"titlePadding":12}},"y":{"field":"v","type":"quantitative","scale":{"domain":[-6.8,46.8],"nice":false,"zero":false},"axis":{"values":[0,10,20,30,40],"title":"Temperatura  (°C)","tickSize":10,"labelPadding":9,"titlePadding":15}}}},
   {"data":{"name":"franjas"},"transform":[{"filter":"datum.est === 'CA'"}],"mark":{"type":"rect","cornerRadius":5,"opacity":0.55},
    "encoding":{"x":{"field":"ini","type":"quantitative","scale":{"domain":[175,345],"nice":false,"zero":false},"axis":{"values":[200,250,300],"title":"Día del año","tickSize":10,"labelPadding":13,"titlePadding":12}},"x2":{"field":"fin"},"y":{"field":"lo","type":"quantitative","scale":{"domain":[-6.8,46.8],"nice":false,"zero":false},"axis":{"values":[0,10,20,30,40],"title":"Temperatura  (°C)","tickSize":10,"labelPadding":9,"titlePadding":15}},"y2":{"field":"hi"},"color":{"field":"tipo","type":"nominal","scale":{"domain":["periodo","frio"],"range":["#94bfe2","#ed8175"]},"legend":null}}}
  ]},
 {"width":20,"height":255,"view":{"stroke":null},
  "data":{"values":[{"orden":0,"serie":"hist","texto":"Temp mín/máx histórica"},{"orden":1,"serie":"max23","texto":"Temp máx 2023"},{"orden":2,"serie":"min23","texto":"Temp mín 2023"},{"orden":3,"serie":"umbral","texto":"3 y 35 °C"}]},
  "encoding":{
   "y":{"field":"orden","type":"quantitative","scale":{"domain":[-1.485,7.89],"reverse":true,"nice":false,"zero":false},"axis":null},
   "color":{"field":"serie","type":"nominal","scale":{"domain":["hist","max23","min23","umbral"],"range":["#1a1a1a","#ff0d0d","#1f3dff","#222222"]},"legend":null}
  },
  "layer":[
   {"mark":{"type":"rule","strokeWidth":1.6,"yOffset":-1},
    "encoding":{"x":{"datum":2,"type":"quantitative","scale":{"domain":[97,117],"nice":false,"zero":false},"axis":null},"x2":{"datum":29},
     "strokeDash":{"field":"serie","type":"nominal","scale":{"domain":["hist","max23","min23","umbral"],"range":[[1,0],[1,0],[1,0],[2,2]]},"legend":null}}},
   {"mark":{"type":"text","align":"left","baseline":"alphabetic","fontSize":15,"fontWeight":"bold","lineBreak":"\n"},
    "encoding":{"x":{"datum":36,"type":"quantitative","scale":{"domain":[97,117],"nice":false,"zero":false},"axis":null},"text":{"field":"texto"}}}
  ]},
 {"width":325,"height":243,
  "layer":[
   {"data":{"name":"ch_qh"},"mark":{"type":"line","color":"#161616","strokeWidth":2.4},
    "encoding":{"x":{"field":"dia","type":"quantitative","scale":{"domain":[145,333.5],"nice":false,"zero":false},"axis":{"values":[150,200,250,300],"title":"Día del año","tickSize":11,"labelPadding":2,"titlePadding":24}},"y":{"field":"v","type":"quantitative","scale":{"domain":[-0.063,2.04],"nice":false,"zero":false},"axis":{"values":[0,0.5,1,1.5,2],"format":".1f","title":"Q (MJ/m² °C)","tickSize":13,"labelPadding":3,"titlePadding":14}}}},
   {"data":{"name":"ch_q"},"mark":{"type":"line","color":"#ff1a1a","strokeWidth":2.4},
    "encoding":{"x":{"field":"dia","type":"quantitative","scale":{"domain":[145,333.5],"nice":false,"zero":false},"axis":{"values":[150,200,250,300],"title":"Día del año","tickSize":11,"labelPadding":2,"titlePadding":24}},"y":{"field":"v","type":"quantitative","scale":{"domain":[-0.063,2.04],"nice":false,"zero":false},"axis":{"values":[0,0.5,1,1.5,2],"format":".1f","title":"Q (MJ/m² °C)","tickSize":13,"labelPadding":3,"titlePadding":14}}}},
   {"data":{"name":"criticos"},"transform":[{"filter":"datum.est === 'CH'"}],"mark":{"type":"rule","color":"#3c3c3c","strokeWidth":1.4,"strokeDash":[5,4]},
    "encoding":{"x":{"field":"dia","type":"quantitative","scale":{"domain":[145,333.5],"nice":false,"zero":false},"axis":{"values":[150,200,250,300],"title":"Día del año","tickSize":11,"labelPadding":2,"titlePadding":24}},"y":{"datum":0,"type":"quantitative","scale":{"domain":[-0.063,2.04],"nice":false,"zero":false},"axis":{"values":[0,0.5,1,1.5,2],"format":".1f","title":"Q (MJ/m² °C)","tickSize":13,"labelPadding":3,"titlePadding":14}},"y2":{"datum":2.01}}}
  ]},
 {"width":325,"height":243,
  "layer":[
   {"data":{"name":"ca_qh"},"mark":{"type":"line","color":"#161616","strokeWidth":2.4},
    "encoding":{"x":{"field":"dia","type":"quantitative","scale":{"domain":[145,333.5],"nice":false,"zero":false},"axis":{"values":[150,200,250,300],"title":"Día del año","tickSize":11,"labelPadding":2,"titlePadding":24}},"y":{"field":"v","type":"quantitative","scale":{"domain":[-0.063,2.04],"nice":false,"zero":false},"axis":{"values":[0,0.5,1,1.5,2],"format":".1f","title":"Q (MJ/m² °C)","tickSize":13,"labelPadding":3,"titlePadding":14}}}},
   {"data":{"name":"ca_q"},"mark":{"type":"line","color":"#ff1a1a","strokeWidth":2.4},
    "encoding":{"x":{"field":"dia","type":"quantitative","scale":{"domain":[145,333.5],"nice":false,"zero":false},"axis":{"values":[150,200,250,300],"title":"Día del año","tickSize":11,"labelPadding":2,"titlePadding":24}},"y":{"field":"v","type":"quantitative","scale":{"domain":[-0.063,2.04],"nice":false,"zero":false},"axis":{"values":[0,0.5,1,1.5,2],"format":".1f","title":"Q (MJ/m² °C)","tickSize":13,"labelPadding":3,"titlePadding":14}}}},
   {"data":{"name":"criticos"},"transform":[{"filter":"datum.est === 'CA'"}],"mark":{"type":"rule","color":"#3c3c3c","strokeWidth":1.4,"strokeDash":[5,4]},
    "encoding":{"x":{"field":"dia","type":"quantitative","scale":{"domain":[145,333.5],"nice":false,"zero":false},"axis":{"values":[150,200,250,300],"title":"Día del año","tickSize":11,"labelPadding":2,"titlePadding":24}},"y":{"datum":0,"type":"quantitative","scale":{"domain":[-0.063,2.04],"nice":false,"zero":false},"axis":{"values":[0,0.5,1,1.5,2],"format":".1f","title":"Q (MJ/m² °C)","tickSize":13,"labelPadding":3,"titlePadding":14}},"y2":{"datum":2.01}}}
  ]},
 {"width":20,"height":243,"view":{"stroke":null},
  "data":{"values":[{"orden":0,"serie":"hist","texto":"Cociente fototermal\nmedio histórico"},{"orden":1.57,"serie":"q23","texto":"Cociente fototermal 2023"},{"orden":2.57,"serie":"critico","texto":"Inicio y fin periodo crítico"}]},
  "encoding":{
   "y":{"field":"orden","type":"quantitative","scale":{"domain":[-1.514,7.164],"reverse":true,"nice":false,"zero":false},"axis":null},
   "color":{"field":"serie","type":"nominal","scale":{"domain":["hist","q23","critico"],"range":["#1a1a1a","#ff0d0d","#222222"]},"legend":null}
  },
  "layer":[
   {"mark":{"type":"rule","strokeWidth":1.6,"yOffset":-2},
    "encoding":{"x":{"datum":2,"type":"quantitative","scale":{"domain":[97,117],"nice":false,"zero":false},"axis":null},"x2":{"datum":29},
     "strokeDash":{"field":"serie","type":"nominal","scale":{"domain":["hist","q23","critico"],"range":[[1,0],[1,0],[2,2]]},"legend":null}}},
   {"mark":{"type":"text","align":"left","baseline":"alphabetic","fontSize":15,"fontWeight":"bold","lineBreak":"\n"},
    "encoding":{"x":{"datum":36,"type":"quantitative","scale":{"domain":[97,117],"nice":false,"zero":false},"axis":null},"text":{"field":"texto"}}}
  ]}
]
}
